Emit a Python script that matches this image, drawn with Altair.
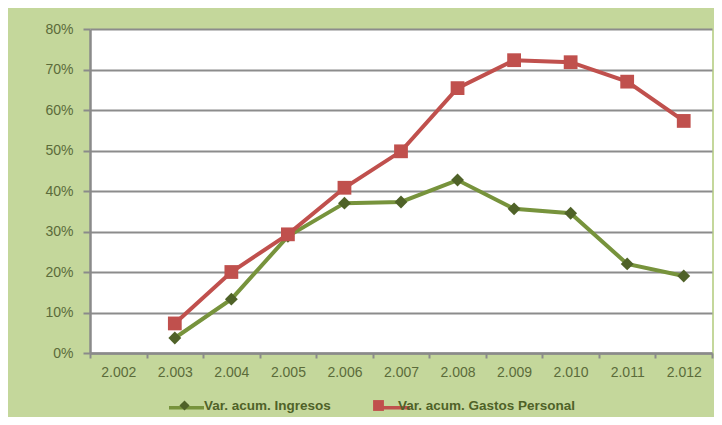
import altair as alt
import pandas as pd

years = ["2.002", "2.003", "2.004", "2.005", "2.006", "2.007", "2.008", "2.009", "2.010", "2.011", "2.012"]
series = ["Var. acum. Ingresos", "Var. acum. Gastos Personal"]
ingresos = [None, 0.037, 0.133, 0.288, 0.370, 0.373, 0.427, 0.356, 0.345, 0.220, 0.190]
gastos = [None, 0.073, 0.200, 0.293, 0.408, 0.498, 0.654, 0.723, 0.718, 0.670, 0.573]
y_ticks = [0, 0.1, 0.2, 0.3, 0.4, 0.5, 0.6, 0.7, 0.8]

line_colors = ["#77933c", "#c0504d"]
marker_colors = ["#4f6228", "#c0504d"]
marker_shapes = ["M0,-0.29L0.29,0L0,0.29L-0.29,0Z", "M-0.31,-0.31H0.31V0.31H-0.31Z"]

rows = []
for i, (name, vals) in enumerate(zip(series, [ingresos, gastos])):
    for yr, v in zip(years, vals):
        if v is not None:
            rows.append({"anio": yr, "valor": v, "serie": name, "orden": i})
df = pd.DataFrame(rows)

label_color = "#5b6b3a"
font = "Liberation Sans"

x_enc = alt.X("anio:O", scale=alt.Scale(type="band", domain=years, paddingInner=0, paddingOuter=0),
              axis=alt.Axis(title=None, labelAngle=0, tickBand="extent", tickSize=5, labelPadding=7,
                            grid=False, labelFontSize=14))
y_enc = alt.Y("valor:Q", scale=alt.Scale(domain=[0, 0.8], nice=False),
              axis=alt.Axis(title=None, format="%", values=y_ticks, tickSize=7, labelPadding=10,
                            grid=True, labelFontSize=14))

leg_common = dict(orient="none", legendX=77, legendY=359, direction="horizontal", title=None,
                  symbolSize=1225, labelOffset=2, padding=0, labelLimit=400,
                  labelFont=font, labelFontSize=13.5, labelFontWeight="bold", labelColor="#4f6228")

lines = alt.Chart(df).mark_line(strokeWidth=4).encode(
    x=x_enc, y=y_enc,
    stroke=alt.Stroke("serie:N", scale=alt.Scale(domain=series, range=line_colors),
                      legend=alt.Legend(symbolType="M-1,0H1", symbolStrokeWidth=3.5, labelExpr="''",
                                        columnPadding=157, **leg_common)),
)

pt_legend = alt.Legend(symbolStrokeWidth=0, columnPadding=30, **leg_common)
pt_sort = alt.EncodingSortField(field="orden", op="min")
points = alt.Chart(df).mark_point(filled=True, size=1975, opacity=1, strokeWidth=0).encode(
    x=x_enc, y=y_enc,
    fill=alt.Fill("serie:N", sort=pt_sort, scale=alt.Scale(range=marker_colors), legend=pt_legend),
    shape=alt.Shape("serie:N", sort=pt_sort, scale=alt.Scale(range=marker_shapes), legend=pt_legend),
)

chart = alt.layer(lines, points).properties(
    width=622, height=324,
    padding={"left": 82, "top": 21, "right": 2, "bottom": 64},
    autosize=alt.AutoSizeParams(type="none"),
    background="#c4d79b",
).configure_view(fill="white", stroke=None).configure_axis(
    domainColor="#8a8a8a", domainWidth=2.5, gridColor="#8c8c8c", gridWidth=2,
    tickColor="#8a8a8a", tickWidth=2, labelColor=label_color, labelFont=font,
)

chart.save("out.html", embed_options={"renderer": "svg", "actions": False})
